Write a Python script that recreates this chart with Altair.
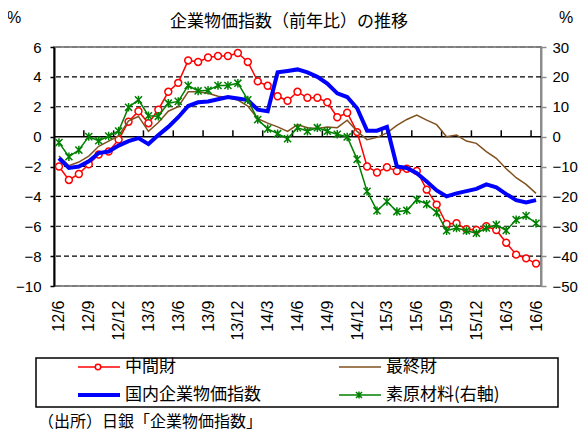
import altair as alt
import pandas as pd

# ---------------- data ----------------
months = ["12/6", "12/7", "12/8", "12/9", "12/10", "12/11", "12/12",
          "13/1", "13/2", "13/3", "13/4", "13/5", "13/6", "13/7", "13/8", "13/9", "13/10", "13/11", "13/12",
          "14/1", "14/2", "14/3", "14/4", "14/5", "14/6", "14/7", "14/8", "14/9", "14/10", "14/11", "14/12",
          "15/1", "15/2", "15/3", "15/4", "15/5", "15/6", "15/7", "15/8", "15/9", "15/10", "15/11", "15/12",
          "16/1", "16/2", "16/3", "16/4", "16/5", "16/6"]

# 中間財 (left axis, %)
chukan = [-2.0, -2.9, -2.5, -1.85, -1.2, -1.0, -0.2, 1.0, 1.7, 0.9, 1.8, 3.0, 3.6,
          5.1, 5.0, 5.3, 5.4, 5.4, 5.6, 5.0, 3.7, 3.4, 2.7, 2.4, 3.0,
          2.6, 2.6, 2.3, 1.3, 1.6, 0.3, -2.0, -2.4, -2.05, -2.3, -2.15, -2.3,
          -3.55, -4.55, -5.85, -5.8, -6.2, -6.25, -6.0, -6.25, -7.1, -7.9, -8.15, -8.5]
# 最終財 (left axis, %)
saishu = [-1.3, -1.95, -1.7, -1.3, -0.65, -0.3, 0.05, 1.05, 1.35, 0.35, 0.95, 1.7, 2.0,
          3.0, 3.0, 2.9, 2.7, 2.6, 2.45, 2.05, 1.2, 0.9, 0.65, 0.35, 0.8,
          0.6, 0.55, 0.65, 0.6, 1.1, 0.35, -0.2, -0.05, 0.25, 0.75, 1.15, 1.45,
          1.1, 0.8, 0.0, 0.1, -0.3, -0.45, -1.0, -1.45, -2.15, -2.75, -3.2, -3.8]
# 国内企業物価指数 (left axis, %)
kokunai = [-1.45, -2.1, -2.0, -1.65, -1.1, -1.0, -0.6, -0.3, -0.1, -0.5, 0.1, 0.65, 1.3,
           2.05, 2.3, 2.35, 2.5, 2.65, 2.55, 2.45, 1.8, 1.7, 4.3, 4.4, 4.5,
           4.3, 4.0, 3.55, 2.9, 2.65, 1.9, 0.4, 0.4, 0.65, -2.0, -2.1, -2.45,
           -3.0, -3.6, -4.0, -3.8, -3.65, -3.5, -3.2, -3.4, -3.85, -4.25, -4.4, -4.25]
# 素原材料 (right axis, %)
genzairyo = [-2.0, -6.7, -4.5, 0.0, -1.4, 0.2, 1.9, 9.8, 12.3, 7.0, 6.8, 11.2, 11.8,
             17.1, 15.3, 15.5, 17.1, 17.1, 17.9, 12.3, 5.7, 2.6, 1.0, -0.7, 3.0,
             1.8, 3.0, 1.8, 0.8, -0.1, -7.6, -18.3, -24.8, -21.7, -25.1, -24.7, -21.1,
             -22.6, -25.4, -31.5, -30.6, -31.5, -32.3, -30.6, -29.5, -31.4, -27.8, -26.5, -29.0]

series_names = ["中間財", "最終財", "国内企業物価指数", "素原材料(右軸)"]
left_ticks = [-10, -8, -6, -4, -2, 0, 2, 4, 6]
right_ticks = [-50, -40, -30, -20, -10, 0, 10, 20, 30]
title_text = "企業物価指数（前年比）の推移"
source_text = "（出所）日銀「企業物価指数」"

# ---------------- styling ----------------
FONT = "Liberation Sans, Noto Sans CJK JP"
JFONT = "Noto Sans CJK JP"
RED, BROWN, BLUE, GREEN = "#FF0000", "#80501E", "#0000FF", "#008000"
STAR = "M-1,-1L1,1M-1,1L1,-1M0,-1.2L0,1.2"
W, H = 487, 239
n = len(months)

df = pd.DataFrame({"i": list(range(n)), "a": chukan, "b": saishu, "c": kokunai, "d": genzairyo})

xs = alt.Scale(domain=[-0.5, n - 0.5], nice=False, zero=False)
label_expr = "[" + ",".join("'%s'" % m for m in months) + "][datum.value]"
x_axis = alt.Axis(values=list(range(0, n, 3)), labelExpr=label_expr, labelAngle=-90,
                  ticks=False, domain=False, grid=False, title=None,
                  labelFontSize=16, labelPadding=14, labelColor="black", labelFont=FONT)
X = alt.X("i:Q", scale=xs, axis=x_axis)

yl = alt.Scale(domain=[left_ticks[0], left_ticks[-1]], nice=False, zero=False)
yl_axis = alt.Axis(values=left_ticks, grid=False, domainColor="black", domainWidth=2,
                   tickColor="black", tickSize=4, tickWidth=1.5, labelFontSize=15,
                   labelPadding=9, labelColor="black", labelFont=FONT, title=None)
yr = alt.Scale(domain=[right_ticks[0], right_ticks[-1]], nice=False, zero=False)
yr_axis = alt.Axis(orient="right", values=right_ticks, grid=False, domainColor="#8c8c8c",
                   domainWidth=2, tickColor="#8c8c8c", tickSize=5, tickWidth=1.5,
                   labelFontSize=15, labelPadding=6, labelColor="black", labelFont=FONT, title=None)


def YL(field):
    return alt.Y(field, scale=yl, axis=yl_axis)


base = alt.Chart(df)

# grid lines (dashed) and zero line
grid_df = pd.DataFrame({"v": [t for t in left_ticks if t not in (0, left_ticks[0], left_ticks[-1])]})
grid = alt.Chart(grid_df).mark_rule(color="black", strokeWidth=1.2, strokeDash=[5, 3]).encode(y=YL("v:Q"))
edge_df = pd.DataFrame({"v": [left_ticks[0], left_ticks[-1]]})
edge = alt.Chart(edge_df).mark_rule(color="#6e6e6e", strokeWidth=1, strokeDash=[5, 3]).encode(y=YL("v:Q"))
zero = alt.Chart(pd.DataFrame({"z": [0]})).mark_rule(color="black", strokeWidth=1.5).encode(y=YL("z:Q"))

# tick marks on the zero line (every 3 months, between categories)
tick_df = pd.DataFrame({"t": [k - 0.5 for k in range(3, n, 3)], "y0": 0.0, "y1": 0.42})
ticks = alt.Chart(tick_df).mark_rule(color="black", strokeWidth=1.5).encode(
    x=alt.X("t:Q", scale=xs, axis=x_axis), y=YL("y0:Q"), y2="y1:Q")

red_line = base.mark_line(color=RED, strokeWidth=1.5).encode(x=X, y=YL("a:Q"))
red_pts = base.mark_point(shape="circle", size=48, filled=True, fill="white", stroke=RED,
                          strokeWidth=1.5, opacity=1).encode(x=X, y=YL("a:Q"))
brown_line = base.mark_line(color=BROWN, strokeWidth=1.5).encode(x=X, y=YL("b:Q"))
blue_line = base.mark_line(color=BLUE, strokeWidth=4).encode(x=X, y=YL("c:Q"))

green_line = base.mark_line(color=GREEN, strokeWidth=1.5).encode(
    x=X, y=alt.Y("d:Q", scale=yr, axis=yr_axis))
green_pts = base.mark_point(shape=STAR, size=50, filled=False, stroke=GREEN, strokeWidth=1.5,
                            opacity=1).encode(x=X, y=alt.Y("d:Q", scale=yr, axis=yr_axis))


def txt(s, x, y, size=17, align="left", font=JFONT):
    return alt.Chart(pd.DataFrame({"s": [s]})).mark_text(
        font=font, fontSize=size, align=align, baseline="middle", color="black").encode(
        text="s:N", x=alt.value(x), y=alt.value(y))


one = pd.DataFrame({"k": [0]})
title = txt(title_text, 235, -25, size=17, align="center")
pct_l = txt("%", -40, -29, size=16, align="center", font=FONT)
pct_r = txt("%", 512, -29, size=16, align="center", font=FONT)
source = txt(source_text, -16, 375, size=16)

# legend
legend_layers = [alt.Chart(one).mark_rect(fill="white", fillOpacity=0, stroke="black", strokeWidth=1.5).encode(
    x=alt.value(-18), x2=alt.value(504), y=alt.value(311), y2=alt.value(360))]
styles = [(RED, 1.5, "circle"), (BROWN, 1.5, None), (BLUE, 4, None), (GREEN, 1.5, "star")]
for k, name in enumerate(series_names):
    col, row = k % 2, k // 2
    lx = 24 + col * 261
    ly = 320 + row * 28
    colr, sw, mk = styles[k]
    legend_layers.append(alt.Chart(one).mark_rule(color=colr, strokeWidth=sw).encode(
        x=alt.value(lx), x2=alt.value(lx + 42), y=alt.value(ly)))
    if mk == "circle":
        legend_layers.append(alt.Chart(one).mark_point(shape="circle", size=30, filled=True, fill="white",
                                                        stroke=colr, strokeWidth=1.5, opacity=1).encode(
            x=alt.value(lx + 20), y=alt.value(ly)))
    elif mk == "star":
        legend_layers.append(alt.Chart(one).mark_point(shape=STAR, size=36, filled=False,
                                                        stroke=colr, strokeWidth=1.5, opacity=1).encode(
            x=alt.value(lx + 20), y=alt.value(ly)))
    legend_layers.append(txt(name, lx + 47, ly, size=17))

left = alt.layer(grid, edge, zero, ticks, red_line, red_pts, brown_line, blue_line,
                 title, pct_l, pct_r, source, *legend_layers)
right = alt.layer(green_line, green_pts)

chart = alt.layer(left, right).resolve_scale(y="independent").properties(
    width=W, height=H,
    padding={"left": 46, "top": 39, "right": 38, "bottom": 148},
    autosize=alt.AutoSizeParams(type="none"),
).configure(font=FONT).configure_view(stroke="#8c8c8c", strokeWidth=2)

chart.save("out.html", embed_options={"renderer": "svg", "actions": False})
